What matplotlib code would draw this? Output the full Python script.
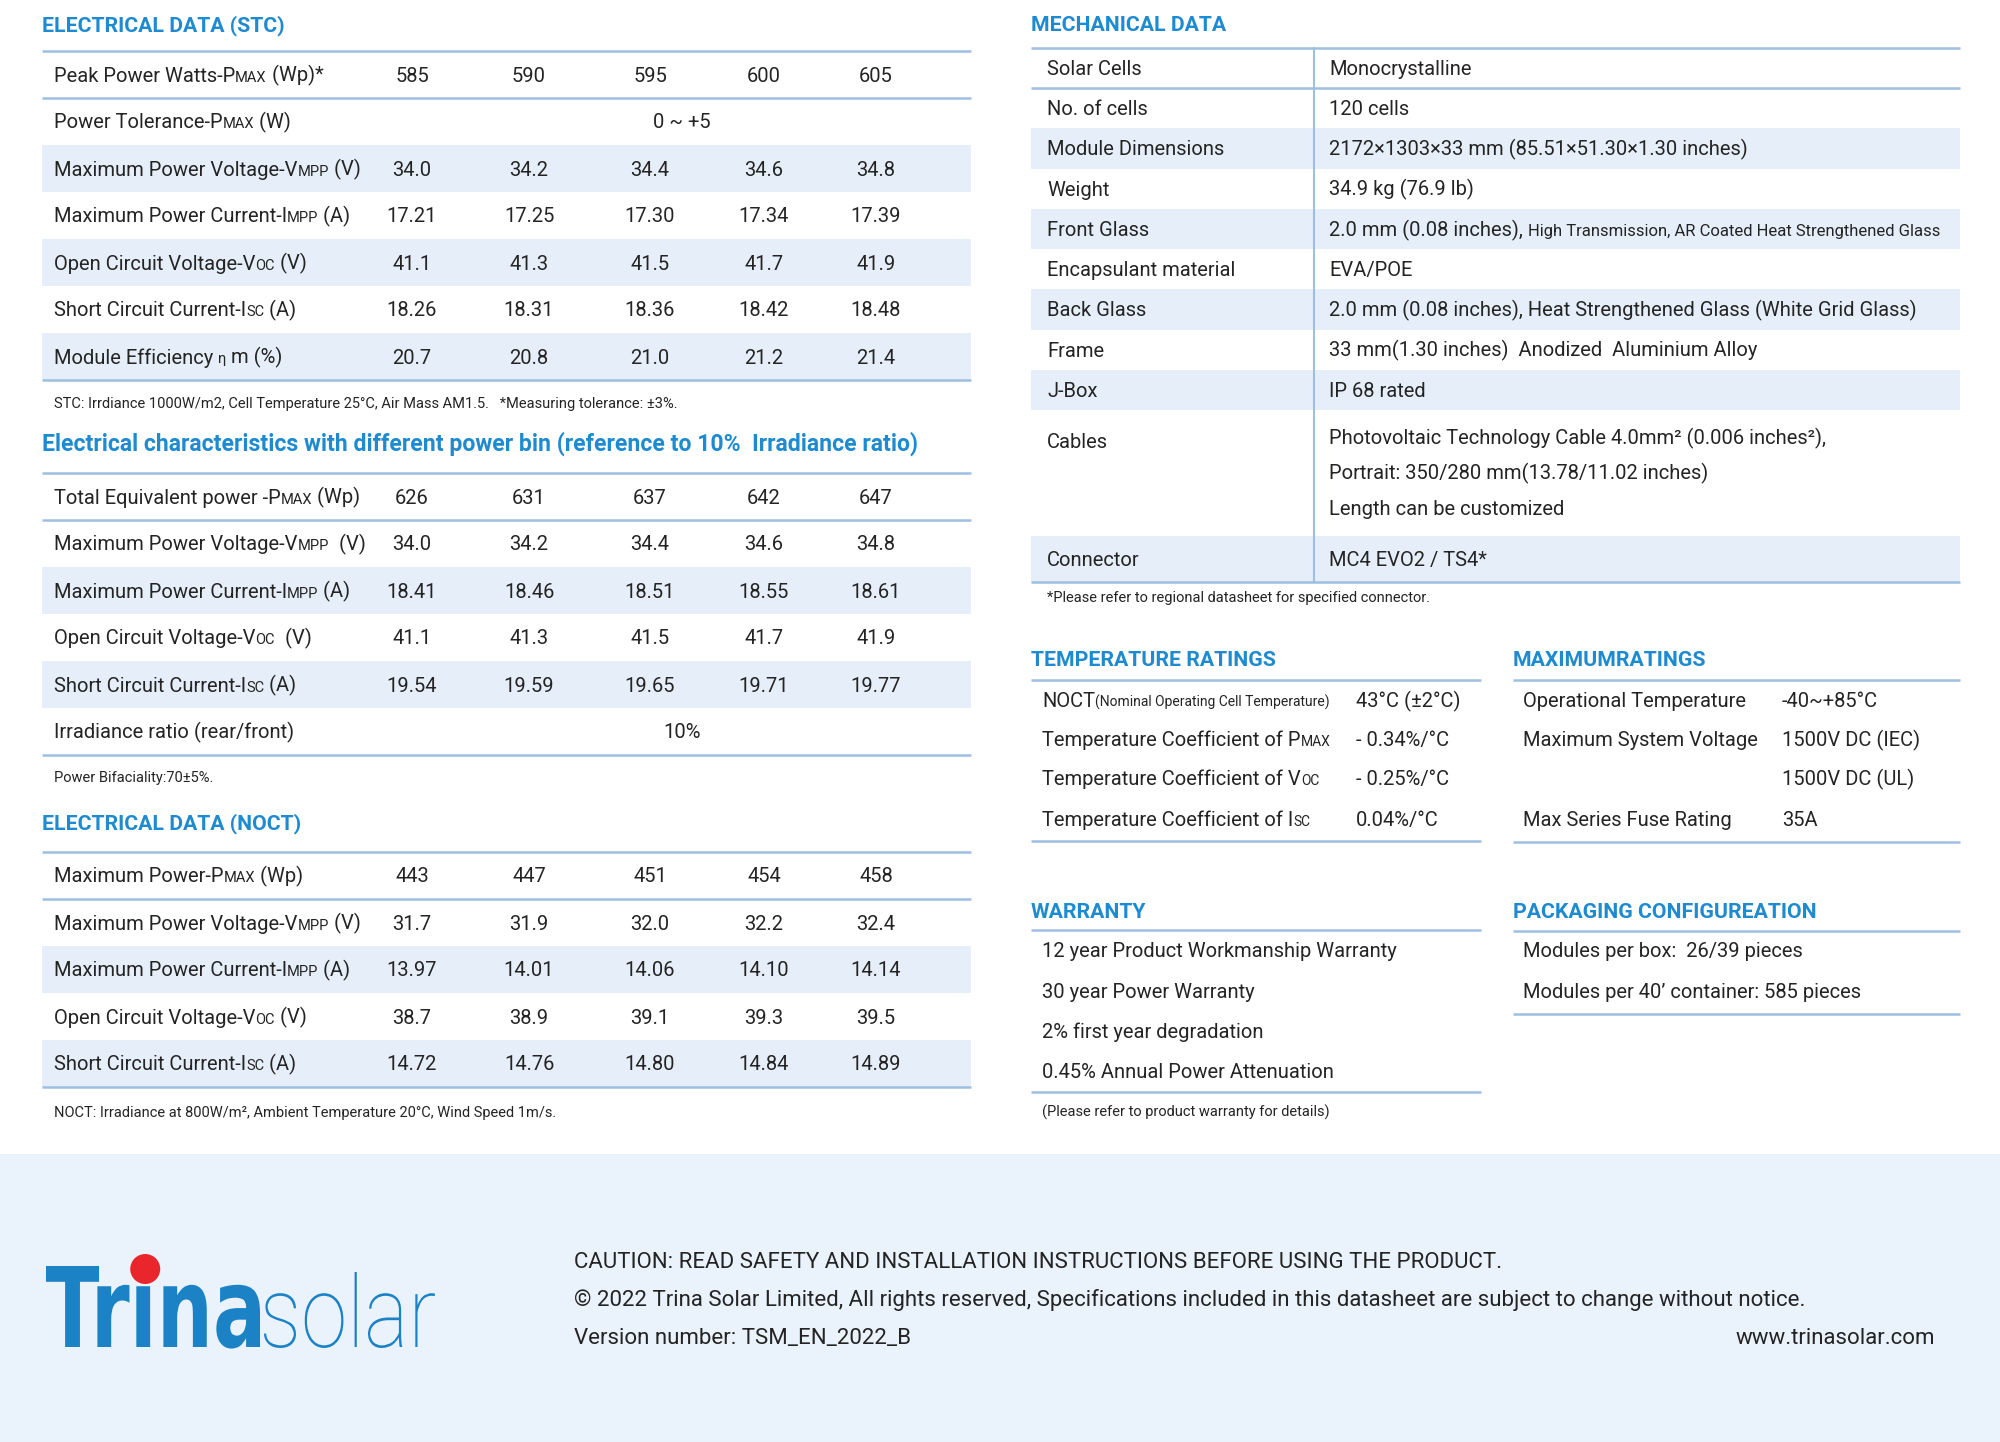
import re
import matplotlib
matplotlib.use("Agg")
import matplotlib.pyplot as plt
import matplotlib.transforms as mtrans
from matplotlib.patches import Rectangle, Circle, PathPatch
from matplotlib.textpath import TextPath
from matplotlib.font_manager import FontProperties

plt.rcParams['font.family'] = ['Roboto', 'DejaVu Sans']

BLUE = '#1E8AD0'
LINE = '#9DC0E2'
SHADE = '#E6EFF9'
TEXT = '#242424'
FOOT_BG = '#EAF2FB'

# ---- data ----
stc_title = "ELECTRICAL DATA (STC)"
stc_labels = ["Peak Power Watts-P{MAX} (Wp)*", "Power Tolerance-P{MAX} (W)",
              "Maximum Power Voltage-V{MPP} (V)", "Maximum Power Current-I{MPP} (A)",
              "Open Circuit Voltage-V{OC} (V)", "Short Circuit Current-I{SC} (A)",
              "Module Efficiency {\u03b7} m (%)"]
stc_values = [["585", "590", "595", "600", "605"],
              ["0 ~ +5"],
              ["34.0", "34.2", "34.4", "34.6", "34.8"],
              ["17.21", "17.25", "17.30", "17.34", "17.39"],
              ["41.1", "41.3", "41.5", "41.7", "41.9"],
              ["18.26", "18.31", "18.36", "18.42", "18.48"],
              ["20.7", "20.8", "21.0", "21.2", "21.4"]]
stc_note = "STC: Irrdiance 1000W/m2, Cell Temperature 25\u00b0C, Air Mass AM1.5.   *Measuring tolerance: \u00b13%."

bin_title = "Electrical characteristics with different power bin (reference to 10%  Irradiance ratio)"
bin_labels = ["Total Equivalent power -P{MAX} (Wp)", "Maximum Power Voltage-V{MPP}  (V)",
              "Maximum Power Current-I{MPP} (A)", "Open Circuit Voltage-V{OC}  (V)",
              "Short Circuit Current-I{SC} (A)", "Irradiance ratio (rear/front)"]
bin_values = [["626", "631", "637", "642", "647"],
              ["34.0", "34.2", "34.4", "34.6", "34.8"],
              ["18.41", "18.46", "18.51", "18.55", "18.61"],
              ["41.1", "41.3", "41.5", "41.7", "41.9"],
              ["19.54", "19.59", "19.65", "19.71", "19.77"],
              ["10%"]]
bin_note = "Power Bifaciality:70\u00b15%."

noct_title = "ELECTRICAL DATA (NOCT)"
noct_labels = ["Maximum Power-P{MAX} (Wp)", "Maximum Power Voltage-V{MPP} (V)",
               "Maximum Power Current-I{MPP} (A)", "Open Circuit Voltage-V{OC} (V)",
               "Short Circuit Current-I{SC} (A)"]
noct_values = [["443", "447", "451", "454", "458"],
               ["31.7", "31.9", "32.0", "32.2", "32.4"],
               ["13.97", "14.01", "14.06", "14.10", "14.14"],
               ["38.7", "38.9", "39.1", "39.3", "39.5"],
               ["14.72", "14.76", "14.80", "14.84", "14.89"]]
noct_note = "NOCT: Irradiance at 800W/m\u00b2, Ambient Temperature 20\u00b0C, Wind Speed 1m/s."

mech_title = "MECHANICAL DATA"
mech_labels = ["Solar Cells", "No. of cells", "Module Dimensions", "Weight", "Front Glass",
               "Encapsulant material", "Back Glass", "Frame", "J-Box", "Cables", "Connector"]
mech_values = [["Monocrystalline"],
               ["120 cells"],
               ["2172\u00d71303\u00d733 mm (85.51\u00d751.30\u00d71.30 inches)"],
               ["34.9 kg (76.9 lb)"],
               ["2.0 mm (0.08 inches), {High Transmission, AR Coated Heat Strengthened Glass}"],
               ["EVA/POE"],
               ["2.0 mm (0.08 inches), Heat Strengthened Glass (White Grid Glass)"],
               ["33 mm(1.30 inches)  Anodized  Aluminium Alloy"],
               ["IP 68 rated"],
               ["Photovoltaic Technology Cable 4.0mm\u00b2 (0.006 inches\u00b2),",
                "Portrait: 350/280 mm(13.78/11.02 inches)",
                "Length can be customized"],
               ["MC4 EVO2 / TS4*"]]
mech_note = "*Please refer to regional datasheet for specified connector."

temp_title = "TEMPERATURE RATINGS"
temp_labels = ["NOCT{(Nominal Operating Cell Temperature)}", "Temperature Coefficient of P{MAX}",
               "Temperature Coefficient of V{OC}", "Temperature Coefficient of I{SC}"]
temp_values = ["43\u00b0C (\u00b12\u00b0C)", "- 0.34%/\u00b0C", "- 0.25%/\u00b0C", "0.04%/\u00b0C"]

max_title = "MAXIMUMRATINGS"
max_labels = ["Operational Temperature", "Maximum System Voltage", "", "Max Series Fuse Rating"]
max_values = ["-40~+85\u00b0C", "1500V DC (IEC)", "1500V DC (UL)", "35A"]

warranty_title = "WARRANTY"
warranty_lines = ["12 year Product Workmanship Warranty", "30 year Power Warranty",
                  "2% first year degradation", "0.45% Annual Power Attenuation"]
warranty_note = "(Please refer to product warranty for details)"

pack_title = "PACKAGING CONFIGUREATION"
pack_lines = ["Modules per box:  26/39 pieces", "Modules per 40\u2019 container: 585 pieces"]

footer_lines = ["CAUTION: READ SAFETY AND INSTALLATION INSTRUCTIONS BEFORE USING THE PRODUCT.",
                "\u00a9 2022 Trina Solar Limited, All rights reserved, Specifications included in this datasheet are subject to change without notice.",
                "Version number: TSM_EN_2022_B"]
footer_url = "www.trinasolar.com"

# ---- canvas in pixel units ----
fig = plt.figure(figsize=(20, 14.42), dpi=100)
ax = fig.add_axes([0, 0, 1, 1])
ax.set_xlim(0, 2000)
ax.set_ylim(1442, 0)
ax.axis('off')
renderer = fig.canvas.get_renderer()

BODY = 14.5
SMALL = 10.5
NOTE = 10.5


def rich(x, y, s, size=BODY, small=SMALL, color=TEXT, weight='normal'):
    # draw text with {..} parts in smaller size, baseline at y
    cx = x
    for p in re.split(r'(\{[^}]*\})', s):
        if not p:
            continue
        if p.startswith('{'):
            t = ax.text(cx, y, p[1:-1], fontsize=small, color=color, va='baseline', weight=weight)
        else:
            t = ax.text(cx, y, p, fontsize=size, color=color, va='baseline', weight=weight)
        cx = t.get_window_extent(renderer).x1
    return cx


def hline(y, x0, x1, lw=1.8):
    ax.plot([x0, x1], [y, y], color=LINE, lw=lw, solid_capstyle='butt')


def title(x, y, s, size=15.3):
    ax.text(x, y, s, fontsize=size, color=BLUE, weight='bold', va='baseline')


# ---- left electrical tables ----
LX0, LX1 = 42, 971
COLS = [412, 529, 650, 764, 876]
MERGED_X = 682
ROW_H = 47


def elec_table(top, labels, values):
    n = len(labels)
    for i in range(n):
        y0 = top + i * ROW_H
        if i > 0 and i % 2 == 0:
            ax.add_patch(Rectangle((LX0, y0), LX1 - LX0, ROW_H, color=SHADE, lw=0))
        yb = y0 + ROW_H / 2 + 7
        rich(54, yb, labels[i])
        if len(values[i]) == 1:
            ax.text(MERGED_X, yb, values[i][0], fontsize=BODY, color=TEXT, ha='center', va='baseline')
        else:
            for xc, v in zip(COLS, values[i]):
                ax.text(xc, yb, v, fontsize=BODY, color=TEXT, ha='center', va='baseline')
    hline(top, LX0, LX1)
    hline(top + ROW_H, LX0, LX1)
    hline(top + n * ROW_H, LX0, LX1)


title(42, 31, stc_title)
elec_table(51, stc_labels, stc_values)
ax.text(54, 408, stc_note, fontsize=NOTE, color=TEXT, va='baseline')

title(42, 451, bin_title, size=16.6)
elec_table(473, bin_labels, bin_values)
ax.text(54, 782, bin_note, fontsize=NOTE, color=TEXT, va='baseline')

title(42, 829, noct_title)
elec_table(852, noct_labels, noct_values)
ax.text(54, 1117, noct_note, fontsize=NOTE, color=TEXT, va='baseline')

# ---- mechanical data ----
RX0, RX1 = 1031, 1960
DIV_X = 1314
mech_heights = [40, 40.25, 40.25, 40.25, 40.25, 40.25, 40.25, 40.25, 40.25, 126, 46]
title(RX0, 31, mech_title)
y0 = 48
for i, (lab, vals, h) in enumerate(zip(mech_labels, mech_values, mech_heights)):
    if i > 0 and i % 2 == 0:
        ax.add_patch(Rectangle((RX0, y0), RX1 - RX0, h, color=SHADE, lw=0))
    if len(vals) == 1:
        yb = y0 + h / 2 + 7
        rich(1047, yb, lab)
        rich(1329, yb, vals[0], small=12)
    else:
        rich(1047, y0 + 38, lab)
        for k, v in enumerate(vals):
            rich(1329, y0 + 34 + k * 35.5, v)
    y0 += h
hline(48, RX0, RX1)
hline(48 + mech_heights[0], RX0, RX1)
hline(y0, RX0, RX1)
ax.plot([DIV_X, DIV_X], [48, y0], color=LINE, lw=1.5)
ax.text(1047, 602, mech_note, fontsize=NOTE, color=TEXT, va='baseline')

# ---- temperature / maximum ratings ----
RATE_Y = [700, 739, 778, 819]
title(RX0, 666, temp_title)
hline(680, RX0, 1481)
for yc, lab, val in zip(RATE_Y, temp_labels, temp_values):
    rich(1042, yc + 7, lab, small=10)
    rich(1356, yc + 7, val)
hline(841, RX0, 1481)

title(1513, 666, max_title)
hline(680, 1513, RX1)
for yc, lab, val in zip(RATE_Y, max_labels, max_values):
    if lab:
        rich(1523, yc + 7, lab)
    rich(1782, yc + 7, val)
hline(842, 1513, RX1)

# ---- warranty / packaging ----
LIST_Y = [950, 991, 1031, 1071]
title(RX0, 918, warranty_title)
hline(930, RX0, 1481)
for yc, s in zip(LIST_Y, warranty_lines):
    rich(1042, yc + 7, s)
hline(1092, RX0, 1481)
ax.text(1042, 1117, warranty_note, fontsize=NOTE, color=TEXT, va='baseline')

title(1513, 918, pack_title)
hline(931, 1513, RX1)
for yc, s in zip(LIST_Y, pack_lines):
    rich(1523, yc + 7, s)
hline(1014, 1513, RX1)

# ---- footer ----
ax.add_patch(Rectangle((0, 1154), 2000, 288, color=FOOT_BG, lw=0))


def logo_word(s, x0, x1, top, base, prop, color):
    tp = TextPath((0, 0), s, size=100, prop=prop)
    ext = tp.get_extents()
    sx = (x1 - x0) / ext.width
    sy = (base - top) / ext.y1
    tr = mtrans.Affine2D().translate(-ext.x0, 0).scale(sx, -sy).translate(x0, base)
    ax.add_patch(PathPatch(tp, transform=tr + ax.transData, color=color, lw=0))
    return ext, sx


LOGO_BLUE = '#1B82C6'
bold_prop = FontProperties(family='DejaVu Sans', weight='bold')
ext, sx = logo_word("Tr\u0131na", 46, 260, 1266, 1347, bold_prop, LOGO_BLUE)
logo_word("solar", 264, 435, 1272, 1347, FontProperties(family='Roboto', weight='light'), LOGO_BLUE)
# red dot centred over the dotless i
tri = TextPath((0, 0), "Tr\u0131", size=100, prop=bold_prop).get_extents()
stem = TextPath((0, 0), "\u0131", size=100, prop=bold_prop).get_extents()
dot_x = 46 + (tri.x1 - stem.width / 2 - ext.x0) * sx
ax.add_patch(Circle((dot_x + 2, 1269), 15, color='#E8262B', lw=0))

for yb, s in zip([1268, 1306, 1344], footer_lines):
    ax.text(574, yb, s, fontsize=16, color=TEXT, va='baseline')
ax.text(1935, 1344, footer_url, fontsize=16, color=TEXT, va='baseline', ha='right')

fig.savefig("out.png", dpi=100, facecolor='white')
